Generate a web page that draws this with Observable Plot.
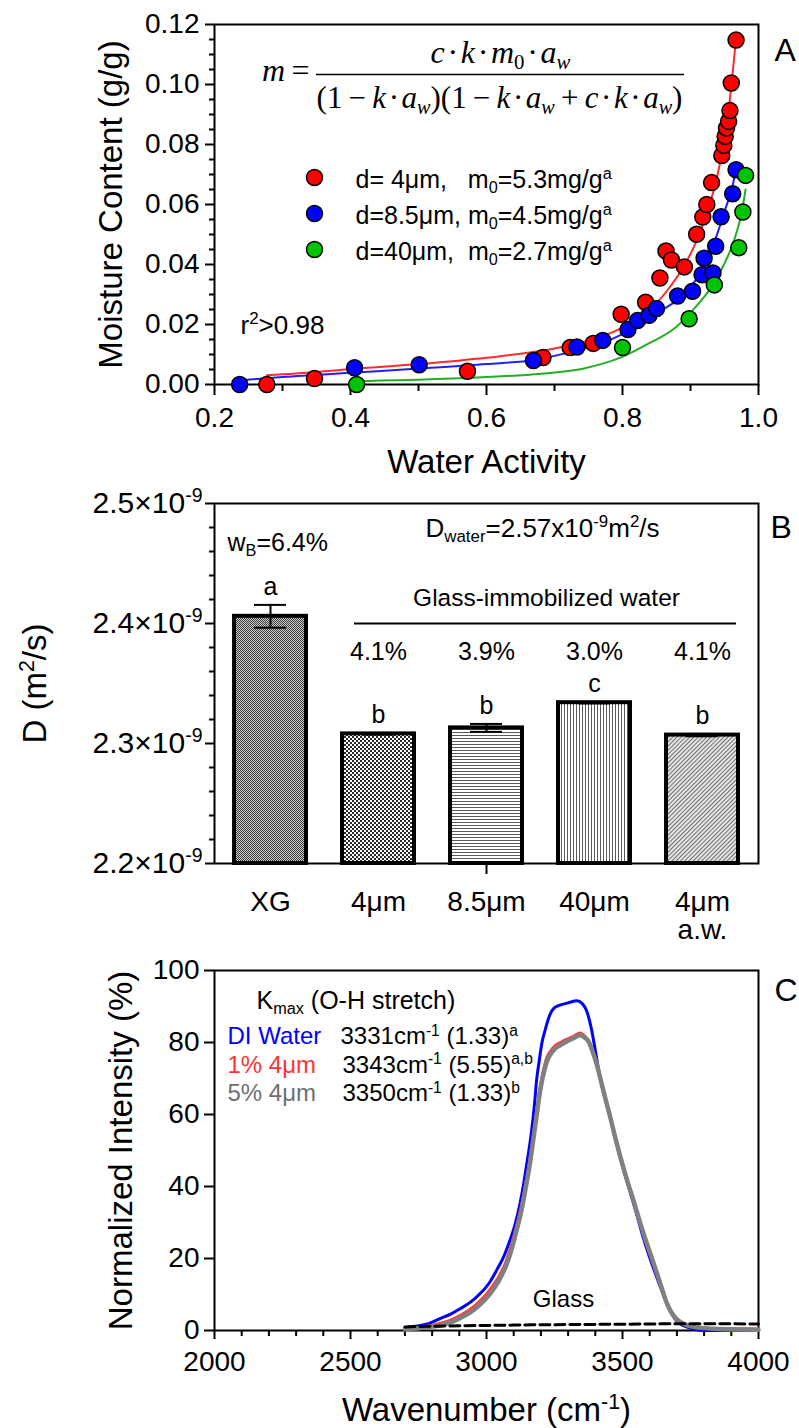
<!DOCTYPE html>
<html>
<head>
<meta charset="utf-8">
<script src="https://cdn.jsdelivr.net/npm/d3@7"></script>
<script src="https://cdn.jsdelivr.net/npm/@observablehq/plot@0.6"></script>
<style>
  body { margin: 0; background: #fff; }
  #wrap { position: relative; width: 799px; height: 1428px; overflow: hidden; background: #fff; }
  #wrap svg.panel { position: absolute; left: 0; }
</style>
</head>
<body>
<svg width="0" height="0" style="position:absolute">
  <defs>
    <pattern id="pXG" width="2" height="2" patternUnits="userSpaceOnUse">
      <rect width="2" height="2" fill="#cfcfcf"/>
      <rect width="1" height="1" fill="#3a3a3a"/>
      <rect x="1" y="1" width="1" height="1" fill="#3a3a3a"/>
    </pattern>
    <pattern id="p4" width="4" height="4" patternUnits="userSpaceOnUse">
      <rect width="4" height="4" fill="#ffffff"/>
      <rect width="2" height="2" fill="#2a2a2a"/>
      <rect x="2" y="2" width="2" height="2" fill="#2a2a2a"/>
    </pattern>
    <pattern id="p85" width="4" height="3" patternUnits="userSpaceOnUse">
      <rect width="4" height="3" fill="#ffffff"/>
      <rect width="4" height="1" fill="#5a5a5a"/>
    </pattern>
    <pattern id="p40" width="3" height="4" patternUnits="userSpaceOnUse">
      <rect width="3" height="4" fill="#ffffff"/>
      <rect width="1" height="4" fill="#5a5a5a"/>
    </pattern>
    <pattern id="paw" width="3" height="3" patternUnits="userSpaceOnUse" patternTransform="rotate(45)">
      <rect width="3" height="3" fill="#e4e4e4"/>
      <rect width="1" height="3" fill="#707070"/>
    </pattern>
  </defs>
</svg>
<div id="wrap"></div>
<script>
// ================= DATA =================
// Panel A: moisture sorption isotherms (water activity, moisture content g/g)
const pointsD4 = [[0.277,0.0000],[0.347,0.0020],[0.572,0.0044],[0.683,0.0090],[0.723,0.0123],[0.757,0.0137],[0.798,0.0234],[0.834,0.0274],[0.855,0.0355],[0.864,0.0445],[0.872,0.0415],[0.891,0.0392],[0.909,0.0501],[0.918,0.0558],[0.924,0.0600],[0.931,0.0673],[0.946,0.0763],[0.949,0.0797],[0.951,0.0827],[0.953,0.0855],[0.956,0.0877],[0.958,0.0913],[0.960,0.1005],[0.967,0.1148]];
const pointsD85 = [[0.237,0.0000],[0.406,0.0056],[0.501,0.0066],[0.669,0.0080],[0.733,0.0125],[0.771,0.0147],[0.808,0.0183],[0.822,0.0213],[0.839,0.0231],[0.850,0.0253],[0.881,0.0295],[0.903,0.0311],[0.917,0.0366],[0.920,0.0421],[0.933,0.0372],[0.937,0.0461],[0.945,0.0559],[0.962,0.0636],[0.967,0.0716]];
const pointsD40 = [[0.409,0.0000],[0.800,0.0123],[0.898,0.0219],[0.935,0.0332],[0.971,0.0456],[0.977,0.0575],[0.981,0.0697]];
const fitD4 = [[0.277,0.0031],[0.35,0.0042],[0.407,0.0053],[0.50,0.0068],[0.60,0.0089],[0.70,0.0120],[0.75,0.0146],[0.789,0.0178],[0.815,0.0208],[0.839,0.0246],[0.868,0.0320],[0.888,0.0386],[0.907,0.0469],[0.922,0.0558],[0.935,0.0655],[0.945,0.0755],[0.953,0.0860],[0.960,0.0995],[0.966,0.1130]];
const fitD85 = [[0.238,0.0014],[0.30,0.0025],[0.407,0.0040],[0.50,0.0053],[0.60,0.0068],[0.67,0.0082],[0.73,0.0112],[0.772,0.0140],[0.80,0.0168],[0.83,0.0205],[0.86,0.0250],[0.897,0.0315],[0.919,0.0390],[0.932,0.0455],[0.942,0.0520],[0.952,0.0590],[0.960,0.0645],[0.966,0.0705]];
const fitD40 = [[0.41,0.0011],[0.445,0.0013],[0.50,0.0016],[0.593,0.0024],[0.68,0.0036],[0.74,0.0052],[0.7985,0.0091],[0.838,0.0136],[0.878,0.0190],[0.903,0.0247],[0.927,0.0313],[0.947,0.0390],[0.964,0.0480],[0.975,0.0570],[0.981,0.0650]];
const legendA = ["d=\u00a04\u03bcm,\u00a0\u00a0\u00a0m_{0}=5.3mg/g^{a}", "d=8.5\u03bcm,\u00a0m_{0}=4.5mg/g^{a}", "d=40\u03bcm,\u00a0\u00a0m_{0}=2.7mg/g^{a}"];
const awTicks = [0.2, 0.4, 0.6, 0.8, 1.0];
const awMinor = [0.3, 0.5, 0.7, 0.9];
const mTicks = [0, 0.02, 0.04, 0.06, 0.08, 0.10, 0.12];
const mMinor = [0.005,0.01,0.015,0.025,0.03,0.035,0.045,0.05,0.055,0.065,0.07,0.075,0.085,0.09,0.095,0.105,0.11,0.115];

// Panel B: diffusion coefficient (units of 1e-9 m2/s)
const catsB = ["XG", "4\u03bcm", "8.5\u03bcm", "40\u03bcm", "4\u03bcm\na.w."];
const meanB = [2.406, 2.308, 2.313, 2.334, 2.307];
const errB = [0.0095, 0.0006, 0.0033, 0.0006, 0.0010];
const letterB = ["a", "b", "b", "c", "b"];
const waterB = ["", "4.1%", "3.9%", "3.0%", "4.1%"];
const dTicks = [2.2, 2.3, 2.4, 2.5];
const dMinor = [2.22,2.24,2.26,2.28,2.32,2.34,2.36,2.38,2.42,2.44,2.46,2.48];
const dDomain = [2.2, 2.5];

// Panel C: normalized Raman O-H stretch spectra (wavenumber cm-1, %)
const specDI = [[2700,0.8],[2750,1.3],[2790,2.0],[2829,3.3],[2870,4.6],[2902,6.0],[2940,7.8],[2976,10.2],[3010,13.2],[3037,16.7],[3065,20.8],[3086,25.0],[3105,29.5],[3123,35.2],[3136,40.5],[3148,46.3],[3166,55.6],[3176,62.5],[3184,69.4],[3194,75.0],[3203,79.6],[3215,83.3],[3232,87.5],[3250,89.7],[3275,90.5],[3300,91.0],[3332,91.6],[3352,90.8],[3368,88.8],[3378,86.3],[3387,83.3],[3400,77.8],[3417,70.4],[3435,64.6],[3454,59.3],[3472,53.8],[3491,48.1],[3512,42.6],[3534,37.0],[3555,31.5],[3576,25.9],[3600,20.3],[3626,14.8],[3650,10.0],[3674,5.6],[3692,3.3],[3711,1.9],[3750,0.6],[3785,0.1],[3850,0.0],[4000,0.0]];
const spec1pct = [[2700,0.5],[2750,0.9],[2790,1.4],[2829,2.0],[2870,3.0],[2902,4.2],[2940,6.0],[2976,8.3],[3010,11.2],[3043,14.8],[3070,19.0],[3092,24.1],[3110,29.2],[3129,35.2],[3145,41.5],[3160,48.1],[3172,54.5],[3184,61.1],[3194,66.5],[3203,70.4],[3212,73.5],[3221,75.9],[3236,77.8],[3252,79.2],[3275,80.2],[3295,81.0],[3320,81.8],[3344,82.7],[3362,81.8],[3375,80.6],[3390,77.8],[3405,74.1],[3420,69.5],[3436,64.8],[3454,59.4],[3472,53.7],[3493,47.6],[3515,41.7],[3540,35.6],[3564,29.6],[3588,23.9],[3613,18.5],[3638,12.8],[3662,7.4],[3680,4.6],[3699,2.8],[3730,1.5],[3760,0.9],[3850,0.6],[4000,0.5]];
const spec5pct = [[2700,0.3],[2750,0.6],[2790,1.0],[2829,1.4],[2870,2.3],[2902,3.4],[2940,5.0],[2976,7.2],[3010,9.9],[3043,13.5],[3070,17.6],[3092,22.5],[3110,27.6],[3129,33.5],[3145,40.0],[3160,46.5],[3172,53.0],[3184,59.5],[3194,65.0],[3203,69.0],[3212,72.0],[3221,74.5],[3236,76.8],[3252,78.3],[3275,79.4],[3295,80.3],[3320,81.2],[3344,82.0],[3362,81.3],[3375,80.3],[3390,77.5],[3405,74.0],[3420,69.6],[3436,64.8],[3454,59.6],[3472,54.0],[3493,48.0],[3515,42.2],[3540,36.2],[3564,30.2],[3588,24.5],[3613,19.0],[3638,13.3],[3662,7.8],[3680,5.0],[3699,3.2],[3730,1.7],[3760,1.0],[3850,0.4],[4000,0.2]];
const specGlass = [[2700,1.0],[2800,1.2],[2900,1.3],[3000,1.4],[3100,1.5],[3200,1.6],[3300,1.65],[3400,1.7],[3500,1.75],[3600,1.8],[3700,1.9],[3800,1.9],[3900,1.85],[4000,1.8]];
const legendC = [
  {name: "DI Water", peak: "3331cm^{-1} (1.33)^{a}"},
  {name: "1% 4\u03bcm", peak: "3343cm^{-1} (5.55)^{a,b}"},
  {name: "5% 4\u03bcm", peak: "3350cm^{-1} (1.33)^{b}"}
];
const wnTicks = [2000, 2500, 3000, 3500, 4000];
const wnMinor = [2100,2200,2300,2400,2600,2700,2800,2900,3100,3200,3300,3400,3600,3700,3800,3900];
const intTicks = [0, 20, 40, 60, 80, 100];

// ================= STYLES =================
const SANS = '"Liberation Sans", Arial, Helvetica, sans-serif';
const SERIF = '"Liberation Serif", "Times New Roman", serif';
const colA = {d4: "#ff0000", d85: "#0000ff", d40: "#00c400"};
const lineA = {d4: "#ff2a2a", d85: "#2020ff", d40: "#22b022"};
const patternB = {"XG": "url(#pXG)", "4\u03bcm": "url(#p4)", "8.5\u03bcm": "url(#p85)", "40\u03bcm": "url(#p40)", "4\u03bcm\na.w.": "url(#paw)"};
const colC = {di: "#0000ff", p1: "#ff3b3b", p5: "#808080"};
const legendColC = ["#0000ff", "#ff3333", "#707070"];

// rich text: ^{..} superscript, _{..} subscript, *..* italic
function richify(root) {
  const NS = "http://www.w3.org/2000/svg";
  root.querySelectorAll("text").forEach(t => {
    const leaves = t.querySelector("tspan") ? [...t.querySelectorAll("tspan")] : [t];
    leaves.forEach(el => {
      const s = el.textContent;
      if (!/[\^_]\{|\*/.test(s)) return;
      const F = parseFloat(getComputedStyle(el).fontSize) || 16;
      el.textContent = "";
      let cur = 0, italic = false;
      const emit = (str, mode) => {
        if (!str) return;
        const ts = document.createElementNS(NS, "tspan");
        ts.textContent = str;
        if (italic) ts.setAttribute("font-style", "italic");
        const target = mode === "^" ? 0.36 * F : mode === "_" ? -0.2 * F : 0;
        if (mode) ts.setAttribute("font-size", (0.65 * F).toFixed(2));
        const dy = -(target - cur);
        if (Math.abs(dy) > 0.01) ts.setAttribute("dy", dy.toFixed(2));
        cur = target;
        el.appendChild(ts);
      };
      let buf = "";
      for (let i = 0; i < s.length; i++) {
        const c = s[i];
        if (c === "*") { emit(buf, null); buf = ""; italic = !italic; continue; }
        if ((c === "^" || c === "_") && s[i + 1] === "{") {
          emit(buf, null); buf = "";
          const end = s.indexOf("}", i);
          let inner = "";
          for (let j = i + 2; j < end; j++) {
            if (s[j] === "*") { emit(inner, c); inner = ""; italic = !italic; }
            else inner += s[j];
          }
          emit(inner, c);
          i = end;
          continue;
        }
        buf += c;
      }
      emit(buf, null);
    });
  });
}

const wrap = document.getElementById("wrap");
function place(svg, top) {
  svg.classList.add("panel");
  svg.style.top = top + "px";
  wrap.appendChild(svg);
  richify(svg);
}
const baseStyle = {fontFamily: SANS, background: "transparent", overflow: "visible", color: "black"};
const X = d => d[0], Y = d => d[1];

// ================= PANEL A =================
const plotA = Plot.plot({
  width: 799, height: 480,
  marginTop: 24, marginBottom: 96, marginLeft: 214, marginRight: 41,
  style: baseStyle,
  x: {domain: [0.2, 1.0]},
  y: {domain: [0, 0.12]},
  marks: [
    Plot.axisX({ticks: awMinor, tickSize: 7, tickFormat: () => "", strokeWidth: 2, label: null}),
    Plot.axisX({ticks: awTicks, tickSize: 11, tickPadding: 12, tickFormat: d3.format(".1f"), fontSize: 28, strokeWidth: 2, label: null}),
    Plot.axisY({ticks: mMinor, tickSize: 5, tickFormat: () => "", strokeWidth: 2, label: null}),
    Plot.axisY({ticks: mTicks, tickSize: 9, tickPadding: 6, tickFormat: d3.format(".2f"), fontSize: 28, strokeWidth: 2, label: null}),
    Plot.frame({stroke: "black", strokeWidth: 2}),
    Plot.text(["Water Activity"], {text: d => d, frameAnchor: "bottom", dy: 88, lineAnchor: "bottom", textAnchor: "middle", fontSize: 33}),
    Plot.text(["Moisture Content (g/g)"], {text: d => d, frameAnchor: "left", dx: -116, rotate: -90, lineAnchor: "top", textAnchor: "middle", fontSize: 33}),
    Plot.line(fitD4, {x: X, y: Y, stroke: lineA.d4, strokeWidth: 2, curve: "monotone-x"}),
    Plot.line(fitD85, {x: X, y: Y, stroke: lineA.d85, strokeWidth: 2, curve: "monotone-x"}),
    Plot.line(fitD40, {x: X, y: Y, stroke: lineA.d40, strokeWidth: 2, curve: "monotone-x"}),
    Plot.dot(pointsD4, {x: X, y: Y, r: 8, fill: colA.d4, stroke: "black", strokeWidth: 1.5}),
    Plot.dot(pointsD85, {x: X, y: Y, r: 8, fill: colA.d85, stroke: "black", strokeWidth: 1.5}),
    Plot.dot(pointsD40, {x: X, y: Y, r: 8, fill: colA.d40, stroke: "black", strokeWidth: 1.5}),
    // legend
    ...[colA.d4, colA.d85, colA.d40].map((c, i) =>
      Plot.dot([0], {frameAnchor: "top-left", dx: 100, dy: 153 + 36 * i, r: 8, fill: c, stroke: "black", strokeWidth: 1.5})),
    ...legendA.map((t, i) =>
      Plot.text([t], {text: d => d, frameAnchor: "top-left", dx: 141, dy: 155 + 36 * i, textAnchor: "start", lineAnchor: "middle", fontSize: 25})),
    // equation
    Plot.text(["*c*\u200a\u00b7\u200a*k*\u200a\u00b7\u200a*m*_{0}\u200a\u00b7\u200a*a*_{*w*}"], {text: d => d, frameAnchor: "top-left", dx: 286, dy: 38, lineAnchor: "bottom", textAnchor: "middle", fontFamily: SERIF, fontSize: 32}),
    Plot.text(["(1\u2009\u2212\u2009*k*\u200a\u00b7\u200a*a*_{*w*})(1\u2009\u2212\u2009*k*\u200a\u00b7\u200a*a*_{*w*}\u2009+\u2009*c*\u200a\u00b7\u200a*k*\u200a\u00b7\u200a*a*_{*w*})"], {text: d => d, frameAnchor: "top-left", dx: 285, dy: 83, lineAnchor: "bottom", textAnchor: "middle", fontFamily: SERIF, fontSize: 31}),
    Plot.text(["*m*\u2009="], {text: d => d, frameAnchor: "top-left", dx: 95, dy: 56, lineAnchor: "bottom", textAnchor: "end", fontFamily: SERIF, fontSize: 32}),
    Plot.ruleY([0.1033], {insetLeft: 102, insetRight: 74, stroke: "black", strokeWidth: 1.5}),
    Plot.text(["r^{2}>0.98"], {text: d => d, frameAnchor: "bottom-left", dx: 26, dy: -51, lineAnchor: "bottom", textAnchor: "start", fontSize: 26}),
    Plot.text(["A"], {text: d => d, frameAnchor: "top-right", dx: 16, dy: 26, textAnchor: "start", lineAnchor: "middle", fontSize: 32})
  ]
});
place(plotA, 0);

// ================= PANEL B =================
const dataB = catsB.map((cat, i) => ({cat, D: meanB[i], err: errB[i], letter: letterB[i], water: waterB[i]}));
const plotB = Plot.plot({
  width: 799, height: 470,
  marginTop: 23, marginBottom: 87, marginLeft: 214, marginRight: 41,
  style: baseStyle,
  x: {domain: catsB, paddingInner: 0.33, paddingOuter: 0.165},
  y: {domain: dDomain},
  color: {type: "identity"},
  marks: [
    Plot.axisY({ticks: dMinor, tickSize: 5, tickFormat: () => "", strokeWidth: 2, label: null}),
    Plot.axisY({ticks: dTicks, tickSize: 9, tickPadding: 3, tickFormat: d => `${d.toFixed(1)}\u00d710^{-9}`, fontSize: 30, strokeWidth: 2, label: null}),
    Plot.axisX({tickSize: 0, tickPadding: 28, fontSize: 28, label: null}),
    Plot.axisX({ticks: [catsB[2]], tickSize: 11, tickFormat: () => "", strokeWidth: 2, label: null}),
    Plot.frame({stroke: "black", strokeWidth: 2}),
    Plot.barY(dataB, {x: "cat", y1: dDomain[0], y2: "D", fill: d => patternB[d.cat], stroke: "black", strokeWidth: 4}),
    Plot.ruleX(dataB, {x: "cat", y1: d => d.D - d.err, y2: d => d.D + d.err, stroke: "black", strokeWidth: 2}),
    Plot.tickY(dataB, {x: "cat", y: d => d.D + d.err, insetLeft: 20, insetRight: 20, stroke: "black", strokeWidth: 2}),
    Plot.tickY(dataB, {x: "cat", y: d => d.D - d.err, insetLeft: 20, insetRight: 20, stroke: "black", strokeWidth: 2}),
    Plot.text(dataB, {x: "cat", y: d => d.D + d.err, text: "letter", dy: -10, lineAnchor: "bottom", fontSize: 25}),
    Plot.text(dataB, {x: "cat", text: "water", frameAnchor: "top", dy: 148, lineAnchor: "middle", textAnchor: "middle", fontSize: 25}),
    Plot.text(["Glass-immobilized water"], {text: d => d, frameAnchor: "top", dx: 60, dy: 95, lineAnchor: "middle", textAnchor: "middle", fontSize: 24.5}),
    Plot.ruleY([dTicks[2]], {insetLeft: 140, insetRight: 22, stroke: "black", strokeWidth: 2}),
    Plot.text(["D_{water}=2.57x10^{-9}m^{2}/s"], {text: d => d, frameAnchor: "top", dx: 56, dy: 25, lineAnchor: "middle", textAnchor: "middle", fontSize: 26}),
    Plot.text(["w_{B}=6.4%"], {text: d => d, frameAnchor: "top-left", dx: 13, dy: 39, textAnchor: "start", lineAnchor: "middle", fontSize: 25}),
    Plot.text(["D (m^{2}/s)"], {text: d => d, frameAnchor: "left", dx: -192, rotate: -90, lineAnchor: "top", textAnchor: "middle", fontSize: 33}),
    Plot.text(["B"], {text: d => d, frameAnchor: "top-right", dx: 12, dy: 24, textAnchor: "start", lineAnchor: "middle", fontSize: 32})
  ]
});
place(plotB, 480);

// ================= PANEL C =================
const plotC = Plot.plot({
  width: 799, height: 478,
  marginTop: 20, marginBottom: 98, marginLeft: 214, marginRight: 41,
  style: baseStyle,
  x: {domain: [2000, 4000]},
  y: {domain: [0, 100]},
  marks: [
    Plot.axisX({ticks: wnMinor, tickSize: 6, tickFormat: () => "", strokeWidth: 2, label: null}),
    Plot.axisX({ticks: wnTicks, tickSize: 9, tickPadding: 12, tickFormat: d => String(d), fontSize: 28, strokeWidth: 2, label: null}),
    Plot.axisY({ticks: intTicks, tickSize: 10, tickPadding: 5, tickFormat: d => String(d), fontSize: 28, strokeWidth: 2, label: null}),
    Plot.frame({stroke: "black", strokeWidth: 2}),
    Plot.text(["Wavenumber (cm^{-1})"], {text: d => d, frameAnchor: "bottom", dy: 90, lineAnchor: "bottom", textAnchor: "middle", fontSize: 33}),
    Plot.text(["Normalized Intensity (%)"], {text: d => d, frameAnchor: "left", dx: -106, rotate: -90, lineAnchor: "top", textAnchor: "middle", fontSize: 33}),
    Plot.line(specDI, {x: X, y: Y, stroke: colC.di, strokeWidth: 3, curve: "monotone-x"}),
    Plot.line(spec1pct, {x: X, y: Y, stroke: colC.p1, strokeWidth: 2.5, curve: "monotone-x"}),
    Plot.line(spec5pct, {x: X, y: Y, stroke: colC.p5, strokeWidth: 4.5, curve: "monotone-x"}),
    Plot.line(specGlass, {x: X, y: Y, stroke: "black", strokeWidth: 3, strokeDasharray: "10,5", curve: "monotone-x"}),
    Plot.text(["Glass"], {text: d => d, frameAnchor: "bottom-left", dx: 349, dy: -31, lineAnchor: "middle", textAnchor: "middle", fontSize: 24}),
    Plot.text(["K_{max} (O-H stretch)"], {text: d => d, frameAnchor: "top-left", dx: 42, dy: 30, textAnchor: "start", lineAnchor: "middle", fontSize: 25}),
    ...legendC.map((d, i) => Plot.text([d.name], {text: t => t, frameAnchor: "top-left", dx: 13, dy: 66 + 28.5 * i, textAnchor: "start", lineAnchor: "middle", fontSize: 24, fill: legendColC[i]})),
    ...legendC.map((d, i) => Plot.text([d.peak], {text: t => t, frameAnchor: "top-left", dx: i === 0 ? 126 : 128, dy: 66 + 28.5 * i, textAnchor: "start", lineAnchor: "middle", fontSize: 24})),
    Plot.text(["C"], {text: d => d, frameAnchor: "top-right", dx: 16, dy: 20, textAnchor: "start", lineAnchor: "middle", fontSize: 32})
  ]
});
place(plotC, 950);
</script>
</body>
</html>
